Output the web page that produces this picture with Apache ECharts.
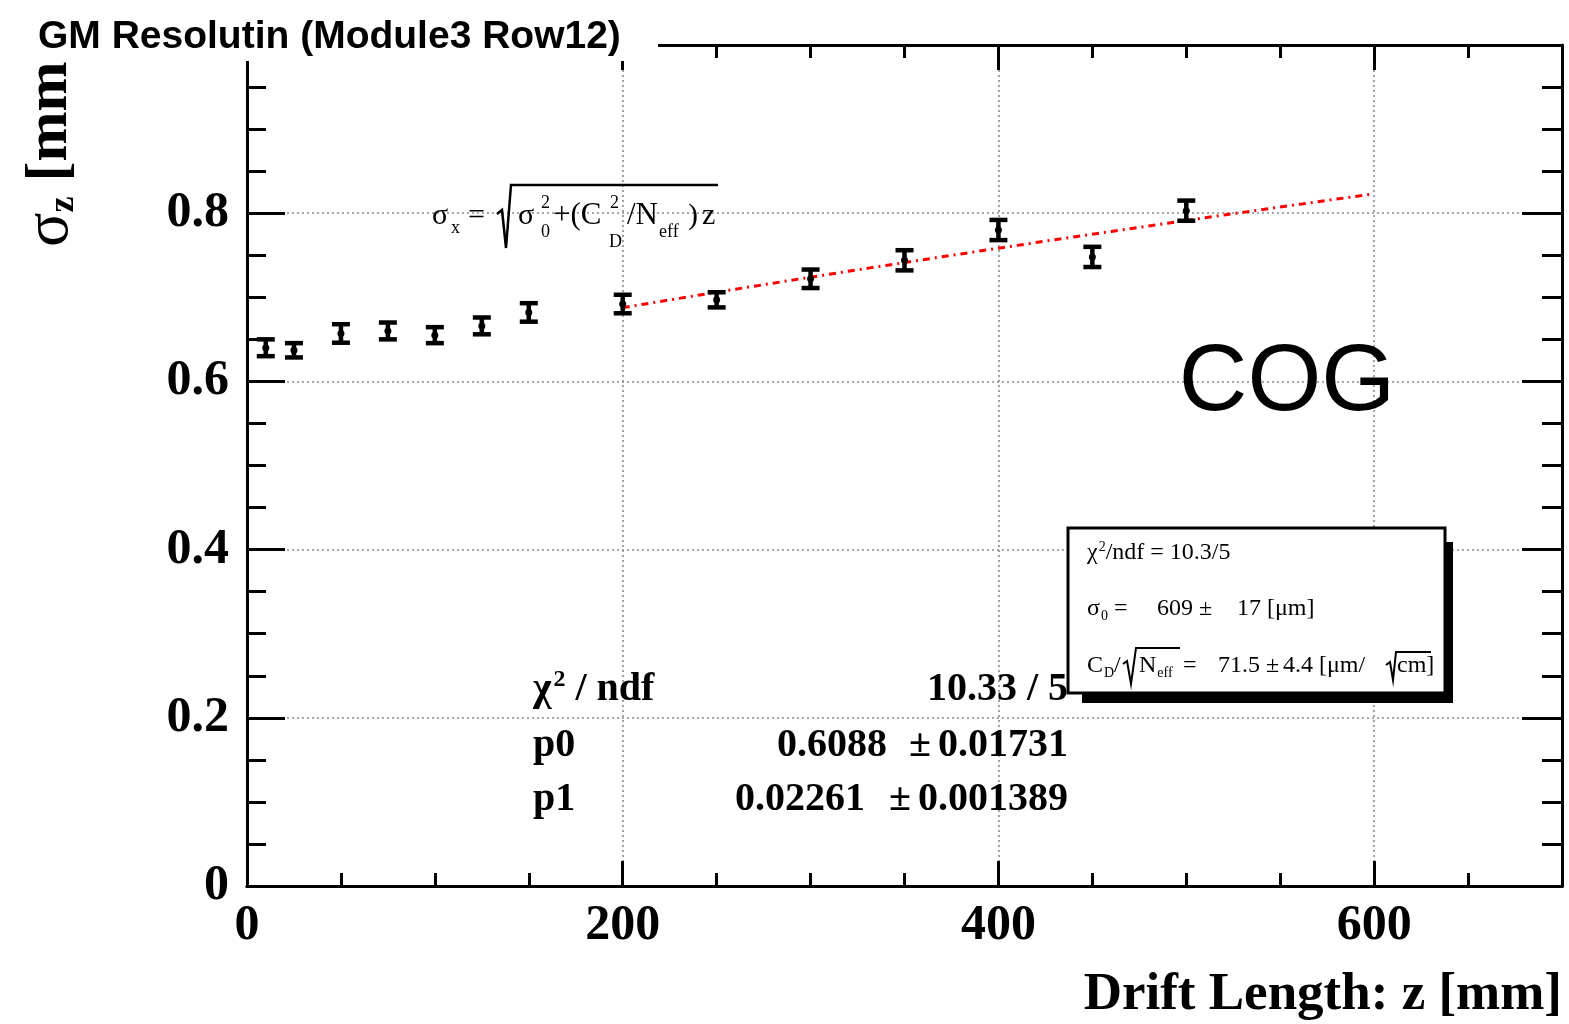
<!DOCTYPE html>
<html>
<head>
<meta charset="utf-8">
<script src="https://cdn.jsdelivr.net/npm/echarts@6/dist/echarts.min.js"></script>
<style>
  html, body { margin: 0; padding: 0; background: #fff; }
  #chart { width: 1569px; height: 1024px; }
</style>
</head>
<body>
<div id="chart"></div>
<script>
// Drift length z [mm] of each measured point
const driftLength = [10, 25, 50, 75, 100, 125, 150, 200, 250, 300, 350, 400, 450, 500];
// Measured resolution sigma_z [mm]
const resolution = [0.640, 0.637, 0.657, 0.660, 0.655, 0.666, 0.682, 0.692, 0.697, 0.722, 0.744, 0.780, 0.748, 0.803];
// Error on sigma_z [mm]
const resolutionError = [0.010, 0.0085, 0.011, 0.010, 0.0095, 0.010, 0.011, 0.011, 0.009, 0.011, 0.012, 0.012, 0.012, 0.012];
// Fit: sigma = sqrt(p0^2 + p1^2 * z), fitted over 200..600 mm
const fitP0 = 0.6088;
const fitP1 = 0.02261;
const fitRange = [200, 600];
// Axis tick labels
const xTickLabels = ['0', '200', '400', '600'];
const yTickLabels = ['0', '0.2', '0.4', '0.6', '0.8', '1'];

const SERIF = '"Liberation Serif", "Times New Roman", serif';
const SANS = '"Liberation Sans", Arial, Helvetica, sans-serif';

const fitCurve = [];
for (let z = fitRange[0]; z <= fitRange[1]; z += 5) {
  fitCurve.push([z, Math.sqrt(fitP0 * fitP0 + fitP1 * fitP1 * z)]);
}

const points = driftLength.map((x, i) => [x, resolution[i], resolutionError[i]]);

function renderErrorBar(params, api) {
  const x = api.value(0), y = api.value(1), e = api.value(2);
  const c = api.coord([x, y]);
  const top = api.coord([x, y + e]);
  const bot = api.coord([x, y - e]);
  const hw = 9;
  const st = { stroke: '#000', lineWidth: 4.5 };
  return {
    type: 'group',
    children: [
      { type: 'line', shape: { x1: c[0], y1: top[1], x2: c[0], y2: bot[1] }, style: st },
      { type: 'line', shape: { x1: c[0] - hw, y1: top[1], x2: c[0] + hw, y2: top[1] }, style: st },
      { type: 'line', shape: { x1: c[0] - hw, y1: bot[1], x2: c[0] + hw, y2: bot[1] }, style: st },
      { type: 'circle', shape: { cx: c[0], cy: c[1], r: 3.5 }, style: { fill: '#000' } }
    ]
  };
}

const frameLine = { show: true, onZero: false, lineStyle: { color: '#000', width: 3 } };
const gridDots = { show: true, showMinLine: false, showMaxLine: false,
  lineStyle: { color: '#8a8a8a', width: 1.6, type: [2, 3] } };
const tickStyle = { color: '#000', width: 3 };

function xAxisDef(position, interval, tickLen, withLabels, withGrid) {
  return {
    type: 'value', position, min: 0, max: 700, interval,
    axisLine: frameLine,
    axisTick: { show: true, inside: true, length: tickLen, lineStyle: tickStyle },
    axisLabel: withLabels ? {
      show: true, margin: 15, color: '#000', fontFamily: SERIF, fontWeight: 'bold', fontSize: 50,
      formatter: v => (v % 200 === 0 ? xTickLabels[v / 200] : '')
    } : { show: false },
    splitLine: withGrid ? gridDots : { show: false },
    minorTick: { show: false }
  };
}

function yAxisDef(position, majorLen, minorLen, withLabels, withGrid) {
  return {
    type: 'value', position, min: 0, max: 1, interval: 0.2,
    axisLine: frameLine,
    axisTick: { show: true, inside: true, length: majorLen, lineStyle: tickStyle },
    minorTick: { show: true, splitNumber: 4, length: minorLen, lineStyle: tickStyle },
    axisLabel: withLabels ? {
      show: true, margin: 18, color: '#000', fontFamily: SERIF, fontWeight: 'bold', fontSize: 50,
      formatter: v => yTickLabels[Math.round(v * 5)]
    } : { show: false },
    splitLine: withGrid ? gridDots : { show: false },
    minorSplitLine: { show: false }
  };
}

function txt(x, y, text, o) {
  o = o || {};
  return {
    type: 'text', x, y, z: o.z || 80, rotation: o.rotation || 0,
    style: {
      text, fill: '#000', align: o.align || 'left', verticalAlign: o.va || 'middle',
      fontFamily: o.family || SERIF, fontWeight: o.weight || 'normal', fontSize: o.size || 24,
      rich: o.rich
    }
  };
}

function poly(pts, w, z) {
  return { type: 'polyline', z: z || 80, shape: { points: pts }, style: { stroke: '#000', lineWidth: w, fill: null } };
}

const boxRich = {
  a: { fontFamily: SERIF, fontSize: 24 },
  sub: { fontFamily: SERIF, fontSize: 14, padding: [14, 0, 0, 1] },
  sup: { fontFamily: SERIF, fontSize: 14, padding: [0, 0, 12, 1] }
};
const statRich = {
  a: { fontFamily: SERIF, fontSize: 40, fontWeight: 'bold' },
  sup: { fontFamily: SERIF, fontSize: 24, fontWeight: 'bold', padding: [0, 0, 20, 2] }
};

const graphics = [
  // title band
  { type: 'rect', z: 100, shape: { x: 0, y: 0, width: 658, height: 61 }, style: { fill: '#fff' } },
  txt(38, 37, 'GM Resolutin (Module3 Row12)', { family: SANS, weight: 'bold', size: 39, z: 101 }),

  // axis titles
  txt(50, 247, '{s|σ}{z|z}{u| [mm]}', {
    rotation: Math.PI / 2, z: 50,
    rich: {
      s: { fontFamily: SERIF, fontSize: 64 },
      z: { fontFamily: SERIF, fontSize: 36, fontWeight: 'bold', padding: [28, 0, 0, 0] },
      u: { fontFamily: SERIF, fontSize: 60, fontWeight: 'bold' }
    }
  }),
  txt(1562, 995, 'Drift Length: z [mm]', { align: 'right', weight: 'bold', size: 53 }),

  // formula
  txt(432, 216, 'σ', { size: 30 }),
  txt(451, 228, 'x', { size: 18 }),
  txt(468, 216, '=', { size: 30 }),
  poly([[497, 214], [502, 210], [506, 248], [511, 185], [718, 185]], 2.5),
  txt(518, 216, 'σ', { size: 30 }),
  txt(541, 203, '2', { size: 18 }),
  txt(541, 232, '0', { size: 18 }),
  txt(553, 216, '+(C', { size: 31 }),
  txt(610, 203, '2', { size: 18 }),
  txt(609, 242, 'D', { size: 18 }),
  txt(627, 216, '/N', { size: 31 }),
  txt(659, 232, 'eff', { size: 18 }),
  txt(688, 216, ')', { size: 30 }),
  txt(702, 216, 'z', { size: 30 }),

  // COG
  txt(1287, 384, 'COG', { family: SANS, size: 95, align: 'center' }),

  // fit statistics (no frame)
  txt(533, 690, '{a|χ}{sup|2}{a| / ndf}', { rich: statRich, z: 50 }),
  txt(1068, 690, '10.33 / 5', { align: 'right', weight: 'bold', size: 40, z: 50 }),
  txt(533, 746, 'p0', { weight: 'bold', size: 40, z: 50 }),
  txt(887, 746, '0.6088', { align: 'right', weight: 'bold', size: 40, z: 50 }),
  txt(920, 746, '±', { align: 'center', weight: 'bold', size: 40, z: 50 }),
  txt(1068, 746, '0.01731', { align: 'right', weight: 'bold', size: 40, z: 50 }),
  txt(533, 800, 'p1', { weight: 'bold', size: 40, z: 50 }),
  txt(865, 800, '0.02261', { align: 'right', weight: 'bold', size: 40, z: 50 }),
  txt(900, 800, '±', { align: 'center', weight: 'bold', size: 40, z: 50 }),
  txt(1068, 800, '0.001389', { align: 'right', weight: 'bold', size: 40, z: 50 }),

  // parameter box with shadow
  { type: 'rect', z: 60, shape: { x: 1082, y: 542, width: 371, height: 161 }, style: { fill: '#000' } },
  { type: 'rect', z: 61, shape: { x: 1068, y: 528, width: 377, height: 165 },
    style: { fill: '#fff', stroke: '#000', lineWidth: 3 } },
  txt(1087, 553, '{a|χ}{sup|2}{a|/ndf = 10.3/5}', { rich: boxRich, z: 62 }),
  txt(1087, 609, '{a|σ}{sub|0}{a| =}', { rich: boxRich, z: 62 }),
  txt(1157, 609, '609 ±', { z: 62 }),
  txt(1237, 609, '17 [μm]', { z: 62 }),
  txt(1087, 666, '{a|C}{sub|D}{a|/}', { rich: boxRich, z: 62 }),
  poly([[1123, 664], [1127, 661], [1131, 684], [1136, 648], [1180, 648]], 2, 62),
  txt(1139, 666, '{a|N}{sub|eff}', { rich: boxRich, z: 62 }),
  txt(1183, 666, '=', { z: 62 }),
  txt(1218, 666, '71.5 ±', { z: 62 }),
  txt(1283, 666, '4.4 [μm/', { z: 62 }),
  poly([[1386, 665], [1390, 662], [1393, 680], [1396, 652], [1431, 652]], 2, 62),
  txt(1397, 666, 'cm]', { z: 62 })
];

const chart = echarts.init(document.getElementById('chart'), null, { renderer: 'canvas' });
chart.setOption({
  animation: false,
  backgroundColor: '#fff',
  grid: { left: 247, right: 7, top: 45, bottom: 138, containLabel: false, outerBoundsMode: 'none' },
  xAxis: [
    xAxisDef('bottom', 200, 25, true, true),
    xAxisDef('bottom', 50, 13, false, false),
    xAxisDef('top', 200, 25, false, false),
    xAxisDef('top', 50, 13, false, false)
  ],
  yAxis: [
    yAxisDef('left', 38, 19, true, true),
    yAxisDef('right', 40, 20, false, false)
  ],
  series: [
    {
      type: 'line', xAxisIndex: 0, yAxisIndex: 0, data: fitCurve, showSymbol: false, smooth: false,
      lineStyle: { color: '#ff0000', width: 3, type: [7, 5, 2, 5] }, z: 3, silent: true
    },
    {
      type: 'custom', xAxisIndex: 0, yAxisIndex: 0, data: points, renderItem: renderErrorBar,
      encode: { x: 0, y: 1 }, z: 4, silent: true
    }
  ],
  graphic: graphics
});
</script>
</body>
</html>
